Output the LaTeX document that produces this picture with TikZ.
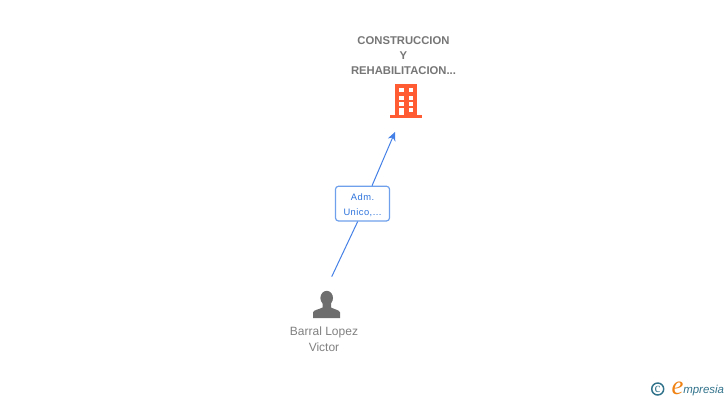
\documentclass[tikz,border=0pt]{standalone}
\usepackage{fontspec}
\setmainfont{Liberation Sans}
\newfontfamily\logofont{Liberation Serif}
\newfontfamily\rolefont[LetterSpace=5]{Liberation Sans}
\usetikzlibrary{arrows.meta,positioning}
\definecolor{linkblue}{RGB}{68,128,230}
\definecolor{boxblue}{RGB}{110,160,235}
\definecolor{roleblue}{RGB}{45,115,220}
\definecolor{nametext}{RGB}{128,128,128}
\definecolor{companygray}{RGB}{118,118,118}
\definecolor{persongray}{RGB}{110,110,110}
\definecolor{buildingred}{RGB}{255,92,52}
\definecolor{logoteal}{RGB}{50,115,140}
\definecolor{logoorange}{RGB}{240,130,20}
\tikzset{
	companylabel/.style={align=center,inner sep=0pt,text=companygray,font=\bfseries\fontsize{8.45pt}{11.25pt}\selectfont},
	personlabel/.style={align=center,inner sep=0pt,text=nametext,font=\fontsize{9pt}{12pt}\selectfont},
	rolebox/.style={draw=boxblue,line width=0.9pt,rounded corners=2.2pt,fill=white,
		minimum width=40.5pt,minimum height=26pt,inner sep=0pt,align=center,text=roleblue,font=\rolefont\fontsize{7pt}{11pt}\selectfont},
	linkline/.style={draw=linkblue,line width=0.75pt},
}
\begin{document}
\begin{tikzpicture}[x=0.75pt,y=0.75pt,yscale=-1,xscale=1]
	\useasboundingbox (0,0) rectangle (728,400);

	% free ends of the connector
	\coordinate (personend) at (331.7,276.7);
	\coordinate (companyend) at (395,132);

	% Text Node
	\node [companylabel] (company) at (403.5,55.5) {CONSTRUCCION\\Y\\REHABILITACION...};
	\node [personlabel] (person) at (324,339) {Barral Lopez\\Victor};
	\node [rolebox] (role) at (362.5,203.6) {\rule{0pt}{7pt}Adm.\\Unico,...};

	% connector
	\draw [linkline] (personend) -- (role.-105);
	\draw [linkline,-{Stealth[length=6.5pt,width=6pt,inset=2pt]}] (role.62) -- (companyend);

	% building
	\fill [buildingred] (395,84) rectangle (417,116);
	\fill [buildingred] (390,115) rectangle (422,118);
	\foreach \wx in {399,408.7} {
		\foreach \wy in {88.3,95.7,101.7} {
			\fill [white] (\wx,\wy) rectangle ++(4.5,4);
		}
	}
	\fill [white] (399,107.7) rectangle (403.5,115);
	\fill [white] (408.7,107.7) rectangle (413.2,112.3);

	% person
	\fill [persongray] (326.7,298) ellipse (6.3 and 7.2);
	\fill [persongray] (313,318) -- (313,312.5) .. controls (313.5,309.8) and (319,309.5) .. (322.5,307.5) -- (322.5,303) -- (331,303) -- (331,307.5) .. controls (334.5,309.5) and (339.5,309.8) .. (340,312.5) -- (340,318) -- cycle;

	% logo
	\draw [logoteal,line width=1.1pt] (657.7,389) circle (6);
	\node [inner sep=0pt,text=logoteal,font=\logofont\fontsize{10pt}{10pt}\selectfont] (copyright) at (657.7,389) {c};
	\node [inner sep=0pt,text=logoorange,font=\logofont\itshape\fontsize{20pt}{20pt}\selectfont] (logoe) at (677.5,388) {e};
	\node [anchor=base west,inner sep=0pt,text=logoteal,font=\itshape\fontsize{8.6pt}{8.6pt}\selectfont] (logoname) at (683,393) {mpresia};
\end{tikzpicture}
\end{document}
